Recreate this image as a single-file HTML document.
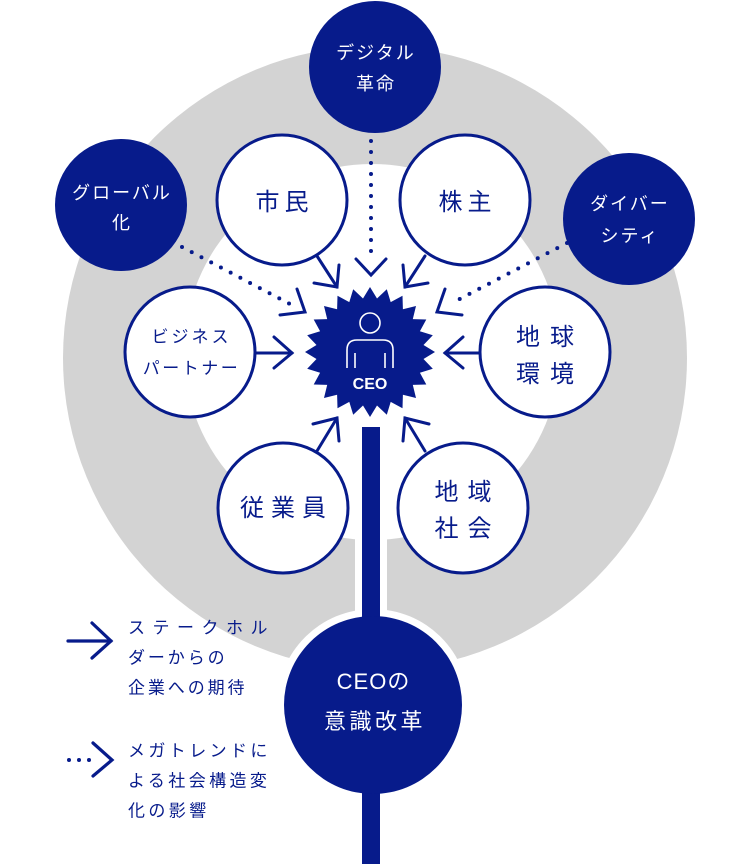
<!DOCTYPE html>
<html><head><meta charset="utf-8">
<style>
html,body{margin:0;padding:0;background:#fff;}
svg{display:block;}
text{font-family:"Liberation Sans","Noto Sans CJK JP",sans-serif;}
</style></head>
<body>
<svg width="750" height="864" viewBox="0 0 750 864" xmlns="http://www.w3.org/2000/svg">
<!-- gray ring -->
<circle cx="375" cy="358" r="312" fill="#d3d3d3"/>
<circle cx="372" cy="352" r="188" fill="#fff"/>
<rect x="355" y="470" width="32" height="170" fill="#fff"/>
<circle cx="373" cy="705" r="96" fill="#fff"/>
<!-- bar -->
<rect x="362" y="427" width="18" height="437" fill="#071b8b"/>

<!-- dotted lines -->
<g stroke="#071b8b" stroke-width="4" stroke-linecap="round" stroke-dasharray="0 11" fill="none">
<line x1="371" y1="141" x2="371" y2="256"/>
<line x1="182" y1="247" x2="290" y2="304"/>
<line x1="567" y1="243" x2="452" y2="303"/>
</g>

<!-- chevrons & solid arrows -->
<g stroke="#071b8b" stroke-width="3" stroke-linecap="round" stroke-linejoin="miter" fill="none">
<polyline points="356,259 371,275 386,259"/>
<polyline points="297,289 305,312 280,315"/>
<polyline points="445,289 437,312 462,315"/>
<!-- citizen -->
<line x1="317" y1="256" x2="337" y2="287"/>
<polyline points="339,265 337,287 314,283"/>
<!-- shareholder -->
<line x1="425" y1="256" x2="405" y2="287"/>
<polyline points="403,265 405,287 428,283"/>
<!-- business partner -->
<line x1="256" y1="353" x2="292" y2="353"/>
<polyline points="274,337 292,353 274,368"/>
<!-- environment -->
<line x1="479" y1="353" x2="445" y2="353"/>
<polyline points="463,337 445,353 463,368"/>
<!-- employees -->
<line x1="317" y1="451" x2="337" y2="418"/>
<polyline points="313,424 337,418 339,441"/>
<!-- local community -->
<line x1="425" y1="451" x2="405" y2="418"/>
<polyline points="429,424 405,418 403,441"/>
</g>

<!-- navy megatrend circles -->
<g fill="#071b8b">
<circle cx="375" cy="67" r="66"/>
<circle cx="121" cy="205" r="66"/>
<circle cx="629" cy="219" r="66"/>
<circle cx="373" cy="705" r="89"/>
</g>

<!-- stakeholder circles -->
<g fill="#fff" stroke="#071b8b" stroke-width="3">
<circle cx="282" cy="200" r="65"/>
<circle cx="465" cy="200" r="65"/>
<circle cx="190" cy="352" r="65"/>
<circle cx="545" cy="352" r="65"/>
<circle cx="283" cy="508" r="65"/>
<circle cx="463" cy="508" r="65"/>
</g>

<!-- starburst CEO -->
<g transform="translate(370,352)">
<polygon fill="#071b8b" points="65,0 53.5,7 62.8,16.8 49.9,20.7 56.3,32.5 42.8,32.9 46,46 32.9,42.8 32.5,56.3 20.7,49.9 16.8,62.8 7,53.5 0,65 -7,53.5 -16.8,62.8 -20.7,49.9 -32.5,56.3 -32.9,42.8 -46,46 -42.8,32.9 -56.3,32.5 -49.9,20.7 -62.8,16.8 -53.5,7 -65,0 -53.5,-7 -62.8,-16.8 -49.9,-20.7 -56.3,-32.5 -42.8,-32.9 -46,-46 -32.9,-42.8 -32.5,-56.3 -20.7,-49.9 -16.8,-62.8 -7,-53.5 0,-65 7,-53.5 16.8,-62.8 20.7,-49.9 32.5,-56.3 32.9,-42.8 46,-46 42.8,-32.9 56.3,-32.5 49.9,-20.7 62.8,-16.8 53.5,-7"/>
</g>
<g stroke="#fff" stroke-width="1.6" fill="none">
<circle cx="370" cy="323" r="10"/>
<path d="M347,368 V350 Q347,340 357,340 H383 Q393,340 393,350 V368"/>
<line x1="355" y1="353" x2="355" y2="368"/>
<line x1="385" y1="353" x2="385" y2="368"/>
</g>
<text x="370" y="389" font-size="16" font-weight="bold" fill="#fff" text-anchor="middle">CEO</text>

<!-- megatrend texts -->
<g fill="#fff" font-size="18" text-anchor="middle" style="letter-spacing:2px">
<text x="376" y="59">デジタル</text>
<text x="376" y="90">革命</text>
<text x="122" y="199">グローバル</text>
<text x="122" y="229">化</text>
<text x="630" y="210">ダイバー</text>
<text x="630" y="242">シティ</text>
</g>

<!-- stakeholder texts -->
<g fill="#071b8b" text-anchor="middle">
<text x="284.5" y="210" font-size="24" style="letter-spacing:5px">市民</text>
<text x="467.5" y="210" font-size="24" style="letter-spacing:5px">株主</text>
<text x="191.5" y="342.5" font-size="17" style="letter-spacing:3px">ビジネス</text>
<text x="191.5" y="374" font-size="17" style="letter-spacing:2.5px">パートナー</text>
<text x="550" y="345" font-size="24" style="letter-spacing:10px">地球</text>
<text x="550" y="382" font-size="24" style="letter-spacing:10px">環境</text>
<text x="286.5" y="516" font-size="24" style="letter-spacing:7px">従業員</text>
<text x="467.5" y="500" font-size="24" style="letter-spacing:9px">地域</text>
<text x="467.5" y="536.5" font-size="24" style="letter-spacing:9px">社会</text>
</g>

<!-- CEO change -->
<g fill="#fff" text-anchor="middle" font-size="22">
<text x="373.5" y="689" style="letter-spacing:1px">CEOの</text>
<text x="375" y="729" style="letter-spacing:3.5px">意識改革</text>
</g>

<!-- legend -->
<g stroke="#071b8b" stroke-width="3.2" stroke-linecap="round" fill="none">
<line x1="68" y1="641" x2="111" y2="641"/>
<polyline points="92,623 111,641 92,658"/>
<polyline points="93,743 112,760 93,776"/>
</g>
<g fill="#071b8b">
<circle cx="69" cy="760" r="2"/>
<circle cx="79" cy="760" r="2"/>
<circle cx="89" cy="760" r="2"/>
</g>
<g fill="#071b8b" font-size="17">
<text x="128" y="633.5" style="letter-spacing:7.5px">ステークホル</text>
<text x="128" y="663.5" style="letter-spacing:2.9px">ダーからの</text>
<text x="128" y="693.5" style="letter-spacing:2.9px">企業への期待</text>
<text x="128" y="756.5" style="letter-spacing:3.4px">メガトレンドに</text>
<text x="128" y="786.5" style="letter-spacing:3.4px">よる社会構造変</text>
<text x="128" y="816.5" style="letter-spacing:3.4px">化の影響</text>
</g>
</svg>
</body></html>
